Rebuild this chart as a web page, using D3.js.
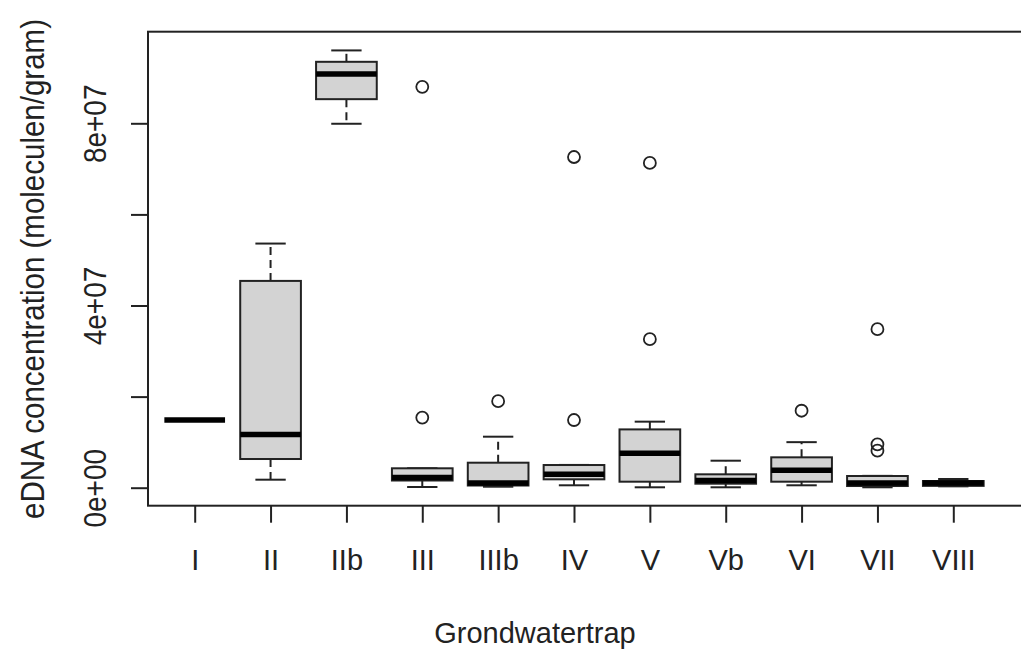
<!DOCTYPE html>
<html>
<head>
<meta charset="utf-8">
<script src="https://cdn.jsdelivr.net/npm/d3@7"></script>
<style>
  html, body { margin: 0; padding: 0; background: #fff; }
  svg { display: block; }
  text { font-family: "Liberation Sans", Arial, sans-serif; fill: #222; }
</style>
</head>
<body>
<svg id="chart" width="1021" height="650"></svg>
<script>
const categories = ["I","II","IIb","III","IIIb","IV","V","Vb","VI","VII","VIII"];
const whiskerLow  = [1.486e7, 1.76e6, 7.99e7, 0.15e6, 0.22e6, 0.53e6, 0.09e6, 0.09e6, 0.53e6, 0.09e6, 0.30e6];
const q1          = [1.486e7, 6.30e6, 8.53e7, 1.58e6, 0.48e6, 1.84e6, 1.32e6, 0.88e6, 1.32e6, 0.37e6, 0.40e6];
const median      = [1.486e7, 1.17e7, 9.08e7, 2.24e6, 1.03e6, 2.94e6, 7.55e6, 1.58e6, 3.82e6, 1.03e6, 1.03e6];
const q3          = [1.486e7, 4.54e7, 9.35e7, 4.26e6, 5.49e6, 4.98e6, 1.28e7, 2.94e6, 6.67e6, 2.57e6, 1.47e6];
const whiskerHigh = [1.486e7, 5.36e7, 9.60e7, 4.26e6, 1.12e7, 5.00e6, 1.45e7, 5.93e6, 1.00e7, 2.60e6, 1.91e6];
const outliers = [
  [], [], [], [1.54e7, 8.80e7], [1.90e7], [1.486e7, 7.26e7], [3.26e7, 7.13e7], [], [1.69e7], [8.12e6, 9.53e6, 3.48e7], []
];
const yTicks = [0, 2e7, 4e7, 6e7, 8e7];
const yTickLabels = ["0e+00", "", "4e+07", "", "8e+07"];
const xTitle = "Grondwatertrap";
const yTitle = "eDNA concentration (moleculen/gram)";

const svg = d3.select("#chart");
const plotLeft = 148, plotTop = 31.7, plotBottom = 505.7, plotRight = 1040;

const x = d3.scalePoint().domain(categories).range([194.7, 953.3]).padding(0);
const y = d3.scaleLinear().domain([-3.95e6, 1.0011e8]).range([plotBottom, plotTop]);
const boxW = x.step() * 0.8;
const capW = boxW * 0.5;
const ink = "#222";

const data = categories.map((c, i) => ({
  c, lo: whiskerLow[i], q1: q1[i], med: median[i], q3: q3[i], hi: whiskerHigh[i], out: outliers[i]
}));

const g = svg.append("g");
const box = g.selectAll("g.box").data(data).enter().append("g").attr("class", "box");

// whiskers (dashed)
box.append("line")
  .attr("x1", d => x(d.c)).attr("x2", d => x(d.c))
  .attr("y1", d => y(d.q3)).attr("y2", d => y(d.hi))
  .attr("stroke", ink).attr("stroke-width", 2).attr("stroke-dasharray", "8,5");
box.append("line")
  .attr("x1", d => x(d.c)).attr("x2", d => x(d.c))
  .attr("y1", d => y(d.q1)).attr("y2", d => y(d.lo))
  .attr("stroke", ink).attr("stroke-width", 2).attr("stroke-dasharray", "8,5");
// caps
box.append("line")
  .attr("x1", d => x(d.c) - capW / 2).attr("x2", d => x(d.c) + capW / 2)
  .attr("y1", d => y(d.hi)).attr("y2", d => y(d.hi))
  .attr("stroke", ink).attr("stroke-width", 2);
box.append("line")
  .attr("x1", d => x(d.c) - capW / 2).attr("x2", d => x(d.c) + capW / 2)
  .attr("y1", d => y(d.lo)).attr("y2", d => y(d.lo))
  .attr("stroke", ink).attr("stroke-width", 2);
// box
box.append("rect")
  .attr("x", d => x(d.c) - boxW / 2).attr("width", boxW)
  .attr("y", d => y(d.q3)).attr("height", d => y(d.q1) - y(d.q3))
  .attr("fill", "#d3d3d3").attr("stroke", ink).attr("stroke-width", 2);
// median
box.append("line")
  .attr("x1", d => x(d.c) - boxW / 2).attr("x2", d => x(d.c) + boxW / 2)
  .attr("y1", d => y(d.med)).attr("y2", d => y(d.med))
  .attr("stroke", "#000").attr("stroke-width", 5.5);
// outliers
box.selectAll("circle").data(d => d.out.map(v => ({ c: d.c, v }))).enter().append("circle")
  .attr("cx", d => x(d.c)).attr("cy", d => y(d.v)).attr("r", 6)
  .attr("fill", "none").attr("stroke", ink).attr("stroke-width", 1.8);

// frame
svg.append("rect")
  .attr("x", plotLeft).attr("y", plotTop)
  .attr("width", plotRight - plotLeft).attr("height", plotBottom - plotTop)
  .attr("fill", "none").attr("stroke", ink).attr("stroke-width", 2);

// x axis
const xAxis = svg.append("g").attr("transform", `translate(0,${plotBottom})`)
  .call(d3.axisBottom(x).tickSize(17).tickPadding(25));
xAxis.select(".domain").remove();
xAxis.selectAll(".tick line").attr("stroke", ink).attr("stroke-width", 2);
xAxis.selectAll(".tick text")
  .style("font-family", '"Liberation Sans", Arial, sans-serif')
  .style("font-size", "29px").attr("fill", "#2a2a2a")
  .attr("dy", null).attr("y", 64.5);

// y axis
const yAxis = svg.append("g").attr("transform", `translate(${plotLeft},0)`)
  .call(d3.axisLeft(y).tickValues(yTicks).tickSize(17).tickFormat((d, i) => yTickLabels[i]));
yAxis.select(".domain").remove();
yAxis.selectAll(".tick line").attr("stroke", ink).attr("stroke-width", 2);
yAxis.selectAll(".tick text")
  .style("font-family", '"Liberation Sans", Arial, sans-serif')
  .style("font-size", "28px").attr("fill", "#2a2a2a")
  .attr("x", null).attr("dy", null)
  .attr("text-anchor", "middle")
  .attr("transform", "translate(-42.3,0) rotate(-90) scale(1,1.1)");

// titles
svg.append("text")
  .attr("x", 535).attr("y", 643)
  .attr("text-anchor", "middle")
  .attr("fill", "#2a2a2a")
  .style("font-size", "29px")
  .text(xTitle);
svg.append("text")
  .attr("transform", "translate(44,269) rotate(-90) scale(1,1.12)")
  .attr("text-anchor", "middle")
  .attr("fill", "#2a2a2a")
  .style("font-size", "29.5px")
  .text(yTitle);
</script>
</body>
</html>
